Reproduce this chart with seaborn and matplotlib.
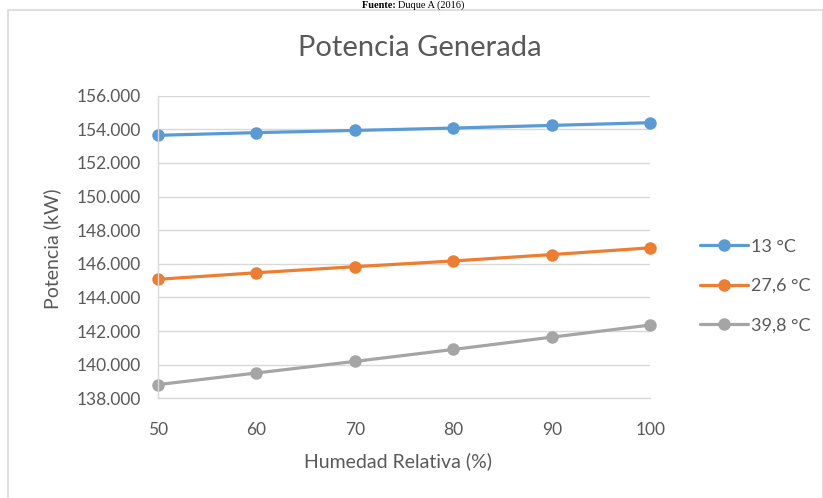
import matplotlib
matplotlib.use("Agg")
import matplotlib.pyplot as plt
from matplotlib.patches import Rectangle
from matplotlib.lines import Line2D
from matplotlib.ticker import FuncFormatter
import numpy as np
import pandas as pd
import seaborn as sns

# Relative humidity (%) and generated power (kW) per ambient temperature
humedad = [50, 60, 70, 80, 90, 100]
series_labels = ["13 °C", "27,6 °C", "39,8 °C"]
potencia_13 = [153640, 153800, 153930, 154070, 154230, 154390]
potencia_27_6 = [145080, 145470, 145830, 146170, 146550, 146950]
potencia_39_8 = [138820, 139510, 140200, 140910, 141640, 142360]
colores = ["#5B9BD5", "#ED7D31", "#A5A5A5"]

df = pd.DataFrame({
    "Humedad": humedad * 3,
    "Potencia": potencia_13 + potencia_27_6 + potencia_39_8,
    "Serie": [s for s in series_labels for _ in humedad],
})

sns.set_theme(style="white")
plt.rcParams["font.family"] = ["Lato", "DejaVu Sans"]

txt = "#595959"
grid_c = "#D9D9D9"
W, H = 823, 498

fig = plt.figure(figsize=(W / 100, H / 100), dpi=100)
ax = fig.add_axes([0.192, 0.200, 0.598, 0.608])

sns.lineplot(data=df, x="Humedad", y="Potencia", hue="Serie",
             hue_order=series_labels, palette=colores, marker="o",
             markersize=9, markeredgewidth=0, linewidth=2.3, ax=ax,
             legend=False)

ax.set_xlim(50, 100)
ax.set_ylim(138000, 156000)
ax.set_xticks(humedad)
ax.set_yticks(np.arange(138000, 156001, 2000))
ax.yaxis.set_major_formatter(FuncFormatter(lambda v, p: f"{v:,.0f}".replace(",", ".")))
ax.grid(axis="y", color=grid_c, linewidth=1)
ax.set_axisbelow(True)
for s in ["top", "right"]:
    ax.spines[s].set_visible(False)
for s in ["left", "bottom"]:
    ax.spines[s].set_color(grid_c)
    ax.spines[s].set_linewidth(1)
ax.tick_params(axis="both", length=0, labelsize=12.5, colors=txt)
ax.tick_params(axis="y", pad=12)
ax.tick_params(axis="x", pad=17)
for ln in ax.get_lines():
    ln.set_clip_on(False)

ax.set_xlabel("Humedad Relativa (%)", fontsize=14, color=txt)
ax.set_ylabel("Potencia (kW)", fontsize=14, color=txt)
# place axis titles in figure pixels
ax.xaxis.set_label_coords(398 / W, 1 - 461 / H, transform=fig.transFigure)
ax.yaxis.set_label_coords(52 / W, 0.5, transform=fig.transFigure)
ax.xaxis.label.set_va("center")
ax.yaxis.label.set_va("center")

# Chart title
fig.text(420 / W, 1 - 48 / H, "Potencia Generada", ha="center", va="center",
         fontsize=21, color=txt)

# Legend
handles = [Line2D([], [], color=c, marker="o", markersize=9, markeredgewidth=0,
                  linewidth=2.3) for c in colores]
leg = fig.legend(handles, series_labels, loc="center left",
                 bbox_to_anchor=(700 / W, 1 - 286 / H), frameon=False,
                 fontsize=13, handlelength=2.65, handletextpad=0.2,
                 labelspacing=1.3, borderaxespad=0, borderpad=0)
for t in leg.get_texts():
    t.set_color(txt)

# Outer chart frame
fig.patches.append(Rectangle((8 / W, -0.01), 0.99, 1 - 10 / H + 0.01,
                             transform=fig.transFigure, fill=False,
                             edgecolor=grid_c, linewidth=1.2))

# Source caption above the chart frame: bold "Fuente:" followed by the citation
serif = ["Liberation Serif", "DejaVu Serif"]
cap_y = 1 - 7.5 / H
cap_size = 7.5
bold = fig.text(0, cap_y, "Fuente: ", va="baseline", fontsize=cap_size,
                fontweight="bold", family=serif, color="black")
rest = fig.text(0, cap_y, "Duque A (2016)", va="baseline", fontsize=cap_size,
                family=serif, color="black")
renderer = fig.canvas.get_renderer()
wb = bold.get_window_extent(renderer).width
wr = rest.get_window_extent(renderer).width
x0 = 413 - (wb + wr) / 2
bold.set_x(x0 / W)
rest.set_x((x0 + wb) / W)

fig.savefig("out.png", dpi=100, facecolor="white")
